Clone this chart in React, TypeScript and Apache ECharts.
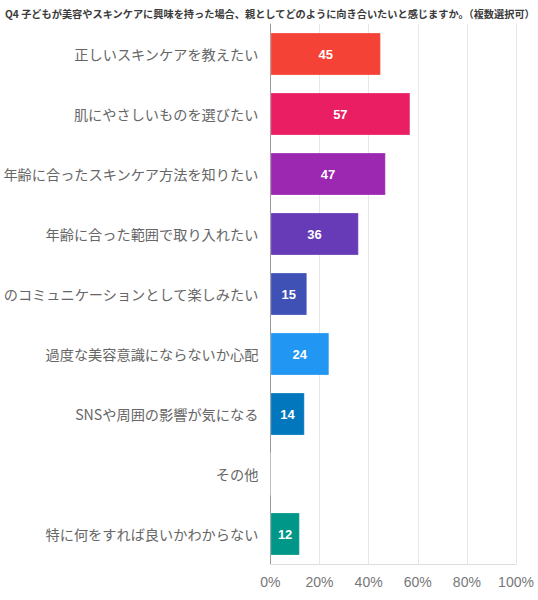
import React, { useEffect, useRef } from "react";
import * as echarts from "echarts";

const titleText =
  "Q4 子どもが美容やスキンケアに興味を持った場合、親としてどのように向き合いたいと感じますか。（複数選択可）";

const categories = [
  "正しいスキンケアを教えたい",
  "肌にやさしいものを選びたい",
  "年齢に合ったスキンケア方法を知りたい",
  "年齢に合った範囲で取り入れたい",
  "のコミュニケーションとして楽しみたい",
  "過度な美容意識にならないか心配",
  "SNSや周囲の影響が気になる",
  "その他",
  "特に何をすれば良いかわからない",
];

const counts = [45, 57, 47, 36, 15, 24, 14, 0, 12];

const barColors = [
  "#F44336",
  "#E91E63",
  "#9C27B0",
  "#673AB7",
  "#3F51B5",
  "#2196F3",
  "#0277BD",
  "#9E9E9E",
  "#009688",
];

const xTicks = [0, 20, 40, 60, 80, 100];

export default function App() {
  const ref = useRef<HTMLDivElement>(null);

  useEffect(() => {
    if (!ref.current) return;
    const chart = echarts.init(ref.current, undefined, { renderer: "svg" });
    const font = "'Noto Sans CJK JP', 'Noto Sans', sans-serif";
    chart.setOption({
      animation: false,
      title: {
        text: titleText,
        left: 0,
        top: 3,
        textStyle: {
          fontSize: 10.2,
          fontWeight: "bold",
          color: "#3a3a3a",
          fontFamily: font,
        },
      },
      grid: { left: 269, right: 22, top: 24, bottom: 36, containLabel: false },
      xAxis: {
        type: "value",
        min: xTicks[0],
        max: xTicks[xTicks.length - 1],
        interval: 20,
        axisLine: { show: true, lineStyle: { color: "#ddd" } },
        axisTick: { show: false },
        splitLine: { show: true, lineStyle: { color: "#e6e6e6" } },
        axisLabel: {
          formatter: "{value}%",
          color: "#777",
          fontSize: 14,
          margin: 11,
          fontFamily: "'Liberation Sans', Arial, sans-serif",
        },
      },
      yAxis: {
        type: "category",
        inverse: true,
        data: categories,
        axisLine: { show: true, lineStyle: { color: "#999" } },
        axisTick: { show: false },
        axisLabel: {
          color: "#666",
          fontSize: 14.2,
          margin: 12,
          fontFamily: font,
        },
      },
      series: [
        {
          type: "bar",
          barWidth: 43,
          data: counts.map((v, i) => ({
            value: v,
            itemStyle: {
              color: barColors[i],
              borderColor: "rgba(255,255,255,0.25)",
              borderWidth: 1,
            },
          })),
          label: {
            show: true,
            position: "inside",
            color: "#fff",
            fontWeight: "bold",
            fontSize: 13,
            fontFamily: "'Liberation Sans', Arial, sans-serif",
            formatter: (p: any) => (p.value > 0 ? String(p.value) : ""),
          },
        },
      ],
    });
    return () => chart.dispose();
  }, []);

  return (
    <div
      ref={ref}
      style={{ position: "absolute", left: 0, top: 0, width: 538, height: 600 }}
    />
  );
}
